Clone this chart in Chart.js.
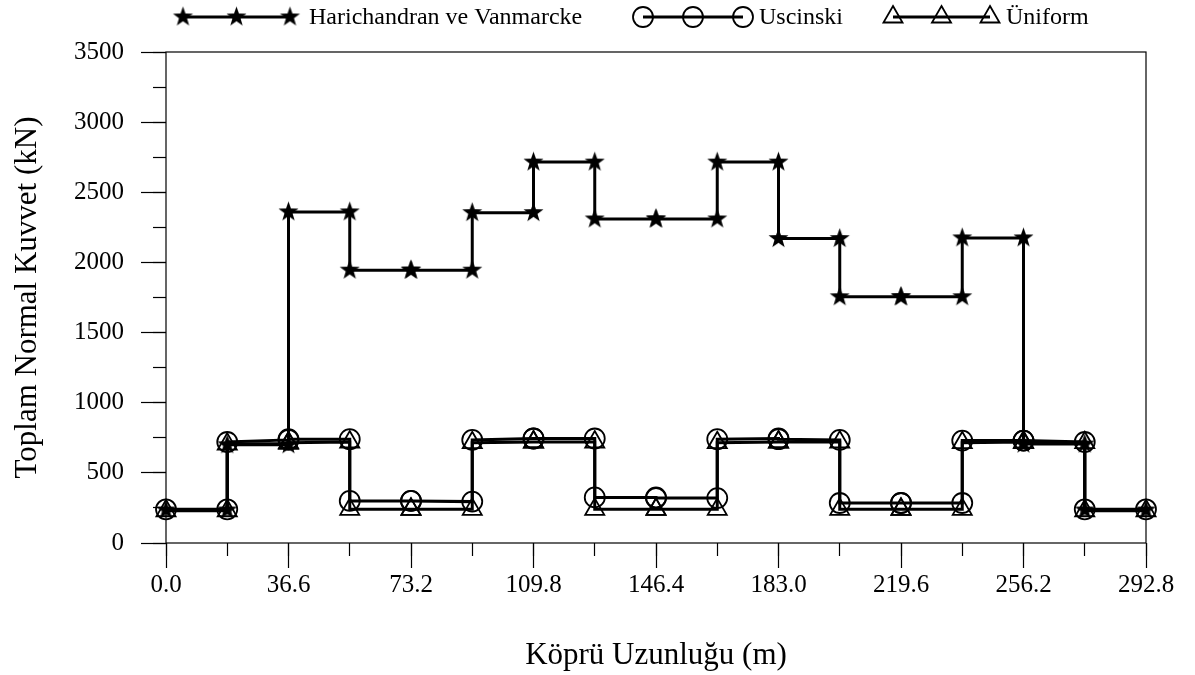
<!DOCTYPE html>
<html>
<head>
<meta charset="utf-8">
<script src="https://cdn.jsdelivr.net/npm/chart.js@4.4.1/dist/chart.umd.min.js"></script>
<style>
    html, body { margin: 0; padding: 0; background: #ffffff; }
    #wrap { width: 1195px; height: 675px; }
</style>
</head>
<body>
<div id="wrap"><canvas id="forceChart" width="1195" height="675"></canvas></div>
<script>
// element end nodes along the bridge (m)
const nodes = [0, 18.3, 36.6, 54.9, 73.2, 91.5, 109.8, 128.1, 146.4, 164.7, 183.0, 201.3, 219.6, 237.9, 256.2, 274.5, 292.8];
const xTickValues = [0, 36.6, 73.2, 109.8, 146.4, 183.0, 219.6, 256.2, 292.8];
const yMajorTicks = [0, 500, 1000, 1500, 2000, 2500, 3000, 3500];
const yMinorTicks = [0, 250, 500, 750, 1000, 1250, 1500, 1750, 2000, 2250, 2500, 2750, 3000, 3250, 3500];

// total normal force at start / end of each element (kN)
const hvStart  = [235, 700, 2360, 1945, 1945, 2355, 2715, 2310, 2310, 2715, 2170, 1755, 1755, 2175, 705, 235];
const hvEnd    = [235, 700, 2360, 1945, 1945, 2355, 2715, 2310, 2310, 2715, 2170, 1755, 1755, 2175, 705, 235];
const uscStart = [240, 720, 740, 300, 300, 735, 745, 325, 320, 740, 740, 285, 285, 730, 730, 240];
const uscEnd   = [240, 735, 740, 300, 295, 745, 745, 325, 320, 745, 735, 285, 285, 730, 720, 240];
const uniStart = [230, 705, 715, 240, 240, 715, 720, 240, 240, 715, 720, 240, 240, 715, 715, 230];
const uniEnd   = [230, 710, 720, 240, 240, 720, 720, 240, 240, 720, 720, 240, 240, 720, 715, 230];

const seriesLabels = ['Harichandran ve Vanmarcke', 'Uscinski', 'Üniform'];

const SERIF = '"Liberation Serif", "Times New Roman", serif';

function stepPoints(start, end) {
    const pts = [];
    for (let i = 0; i < start.length; i++) {
        pts.push({ x: nodes[i], y: start[i] });
        pts.push({ x: nodes[i + 1], y: end[i] });
    }
    return pts;
}

// filled five point star marker
function makeStar(r) {
    const c = document.createElement('canvas');
    const size = Math.ceil(r * 2 + 2);
    c.width = size; c.height = size;
    const g = c.getContext('2d');
    g.beginPath();
    for (let k = 0; k < 10; k++) {
        const rad = k % 2 === 0 ? r : r * 0.4;
        const a = -Math.PI / 2 + k * Math.PI / 5;
        const px = size / 2 + rad * Math.cos(a);
        const py = size / 2 + rad * Math.sin(a);
        if (k === 0) g.moveTo(px, py); else g.lineTo(px, py);
    }
    g.closePath();
    g.fillStyle = '#000';
    g.fill();
    return c;
}
const starImg = makeStar(10.5);

const framePlugin = {
    id: 'frame',
    afterDraw(chart) {
        const { ctx, chartArea: a } = chart;
        ctx.save();
        ctx.strokeStyle = '#000';
        ctx.lineWidth = 1.2;
        ctx.strokeRect(a.left, a.top, a.right - a.left, a.bottom - a.top);
        ctx.restore();
    }
};

const topLegendPlugin = {
    id: 'topLegend',
    afterDraw(chart, args, opts) {
        const ctx = chart.ctx;
        const y = opts.y;
        ctx.save();
        opts.items.forEach((it, i) => {
            const ds = chart.data.datasets[i];
            const xs = [it.x0, (it.x0 + it.x1) / 2, it.x1];
            ctx.strokeStyle = '#000';
            ctx.lineWidth = ds.borderWidth;
            ctx.beginPath();
            ctx.moveTo(xs[0], y);
            ctx.lineTo(xs[2], y);
            ctx.stroke();
            xs.forEach(mx => {
                ctx.lineWidth = ds.pointBorderWidth;
                if (ds.pointStyle === 'circle') {
                    ctx.beginPath();
                    ctx.arc(mx, y, ds.pointRadius, 0, Math.PI * 2);
                    ctx.stroke();
                } else if (ds.pointStyle === 'triangle') {
                    const r = ds.pointRadius;
                    ctx.beginPath();
                    ctx.moveTo(mx, y - r);
                    ctx.lineTo(mx + r * Math.sin(Math.PI * 2 / 3), y - r * Math.cos(Math.PI * 2 / 3));
                    ctx.lineTo(mx + r * Math.sin(Math.PI * 4 / 3), y - r * Math.cos(Math.PI * 4 / 3));
                    ctx.closePath();
                    ctx.stroke();
                } else {
                    ctx.drawImage(ds.pointStyle, mx - ds.pointStyle.width / 2, y - ds.pointStyle.height / 2);
                }
            });
            ctx.fillStyle = '#000';
            ctx.font = opts.font;
            ctx.textBaseline = 'middle';
            ctx.textAlign = 'left';
            ctx.fillText(ds.label, it.textX, y + 1);
        });
        ctx.restore();
    }
};

const baseDataset = {
    borderColor: '#000',
    borderWidth: 3,
    pointBorderColor: '#000',
    pointBackgroundColor: 'rgba(0,0,0,0)',
    pointBorderWidth: 1.8,
    tension: 0,
    clip: false
};

const ctx = document.getElementById('forceChart').getContext('2d');
new Chart(ctx, {
    type: 'line',
    data: {
        datasets: [
            Object.assign({}, baseDataset, {
                label: seriesLabels[0],
                data: stepPoints(hvStart, hvEnd),
                pointStyle: starImg,
                pointRadius: 10
            }),
            Object.assign({}, baseDataset, {
                label: seriesLabels[1],
                data: stepPoints(uscStart, uscEnd),
                pointStyle: 'circle',
                pointRadius: 10
            }),
            Object.assign({}, baseDataset, {
                label: seriesLabels[2],
                data: stepPoints(uniStart, uniEnd),
                pointStyle: 'triangle',
                pointRadius: 11
            })
        ]
    },
    options: {
        responsive: false,
        devicePixelRatio: 1,
        animation: false,
        layout: { padding: { top: 52, right: 49, left: 0, bottom: 0 } },
        plugins: {
            legend: { display: false },
            tooltip: { enabled: false },
            topLegend: {
                y: 17,
                font: '24px ' + SERIF,
                items: [
                    { x0: 183, x1: 290, textX: 309 },
                    { x0: 643, x1: 743, textX: 759 },
                    { x0: 893, x1: 990, textX: 1006 }
                ]
            }
        },
        scales: {
            x: {
                type: 'linear', position: 'bottom', weight: 1,
                min: 0, max: 292.8,
                afterBuildTicks: s => { s.ticks = xTickValues.map(v => ({ value: v })); },
                afterFit: s => { s.height = 132; },
                ticks: {
                    color: '#000', font: { family: SERIF, size: 25 }, padding: 2,
                    maxRotation: 0, autoSkip: false,
                    callback: v => Number(v).toFixed(1)
                },
                grid: { drawOnChartArea: false, tickLength: 25, color: '#000', tickWidth: 1.2 },
                border: { display: false },
                title: {
                    display: true, text: 'Köprü Uzunluğu (m)', color: '#000',
                    font: { family: SERIF, size: 31 }, padding: { top: 0, bottom: 1 }
                }
            },
            xMinor: {
                type: 'linear', position: 'bottom', weight: 0,
                min: 0, max: 292.8,
                afterBuildTicks: s => { s.ticks = nodes.map(v => ({ value: v })); },
                afterFit: s => { s.height = 0; },
                ticks: { display: false },
                grid: { drawOnChartArea: false, tickLength: 13, color: '#000', tickWidth: 1.2 },
                border: { display: false }
            },
            y: {
                type: 'linear', position: 'left', weight: 1,
                min: 0, max: 3500,
                afterBuildTicks: s => { s.ticks = yMajorTicks.map(v => ({ value: v })); },
                afterFit: s => { s.width = 166; },
                ticks: {
                    color: '#000', font: { family: SERIF, size: 25 }, padding: 17,
                    callback: v => String(v)
                },
                grid: { drawOnChartArea: false, tickLength: 25, color: '#000', tickWidth: 1.2 },
                border: { display: false },
                title: {
                    display: true, text: 'Toplam Normal Kuvvet (kN)', color: '#000',
                    font: { family: SERIF, size: 31 }, padding: { top: 9, bottom: 0 }
                }
            },
            yMinor: {
                type: 'linear', position: 'left', weight: 0,
                min: 0, max: 3500,
                afterBuildTicks: s => { s.ticks = yMinorTicks.map(v => ({ value: v })); },
                afterFit: s => { s.width = 0; },
                ticks: { display: false },
                grid: { drawOnChartArea: false, tickLength: 13, color: '#000', tickWidth: 1.2 },
                border: { display: false }
            }
        }
    },
    plugins: [framePlugin, topLegendPlugin]
});
</script>
</body>
</html>
